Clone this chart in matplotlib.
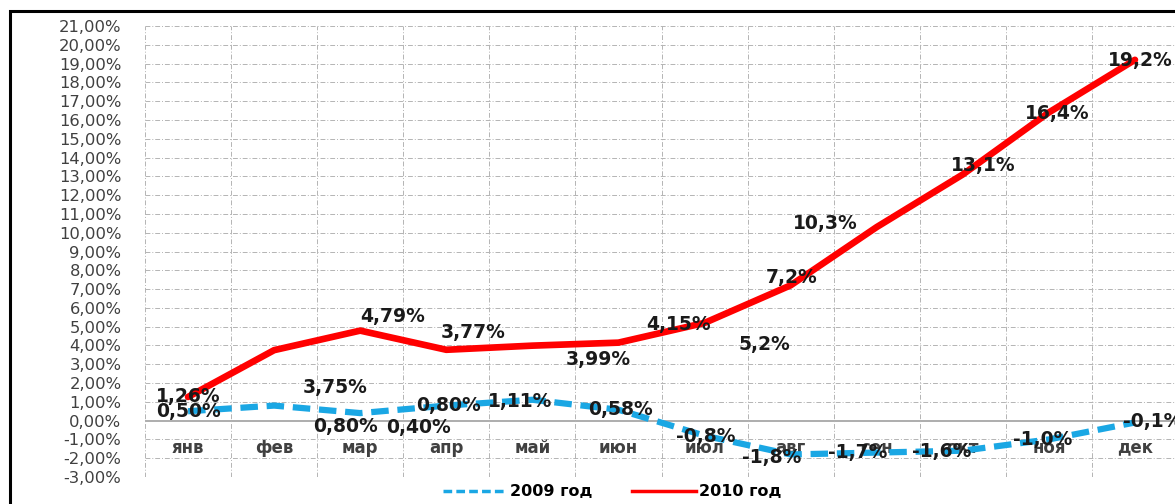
import matplotlib.pyplot as plt
from matplotlib.lines import Line2D
from matplotlib.patches import Rectangle

# ===== data =====
months = ["янв", "фев", "мар", "апр", "май", "июн",
          "июл", "авг", "сен", "окт", "ноя", "дек"]
infl_2009 = [0.50, 0.80, 0.40, 0.80, 1.11, 0.58, -0.8, -1.8, -1.7, -1.6, -1.0, -0.1]
infl_2010 = [1.26, 3.75, 4.79, 3.77, 3.99, 4.15, 5.2, 7.2, 10.3, 13.1, 16.4, 19.2]
labels_2009 = ["0,50%", "0,80%", "0,40%", "0,80%", "1,11%", "0,58%",
               "-0,8%", "-1,8%", "-1,7%", "-1,6%", "-1,0%", "-0,1%"]
labels_2010 = ["1,26%", "3,75%", "4,79%", "3,77%", "3,99%", "4,15%",
               "5,2%", "7,2%", "10,3%", "13,1%", "16,4%", "19,2%"]
yticks = list(range(-3, 22))

# label offsets from the point (pixels, dy positive = down), as placed in the original
off_2009 = [(0, 0), (71, 21), (58, 14), (2, 0), (-12, 2), (2, 0),
            (1, 1), (-19, 3), (-19, 0), (-21, 1), (-6, 0), (18, -1)]
off_2010 = [(0, 0), (61, 37), (32, -14), (27, -17), (66, 14), (60, -18),
            (60, 22), (1, -8), (-51, -4), (20, -9), (8, 1), (5, 1)]

BLUE = "#1aa7e4"
RED = "#ff0000"
GRID = "#b4b4b4"

fig = plt.figure(figsize=(11.75, 5.04), dpi=100)
ax = fig.add_axes([145 / 1175, 1 - 477 / 504, 1033 / 1175, 451 / 504])

x = list(range(len(months)))

# ===== grid =====
for v in yticks:
    if v == 0:
        ax.axhline(0, color="#a0a0a0", lw=1.2, zorder=1)
    else:
        ax.axhline(v, color=GRID, lw=0.7, ls=(0, (5, 2, 1, 2)), zorder=1)
for i in range(len(months) + 1):
    ax.axvline(i - 0.5, color=GRID, lw=0.7, ls=(0, (5, 2, 1, 2)), zorder=1)

# ===== lines =====
ax.plot(x, infl_2009, color=BLUE, lw=4.5, ls=(0, (2.8, 1.4)),
        solid_capstyle="round", zorder=3)
ax.plot(x, infl_2010, color=RED, lw=4.8, solid_capstyle="round",
        solid_joinstyle="round", zorder=4)

# ===== data labels =====
lab_kw = dict(textcoords="offset points", ha="center", va="center",
              fontsize=13.5, fontweight="bold", color="#1a1a1a", zorder=5)
for i in x:
    dx, dy = off_2009[i]
    ax.annotate(labels_2009[i], (i, infl_2009[i]),
                xytext=(dx * 0.72, -dy * 0.72), **lab_kw)
    dx, dy = off_2010[i]
    ax.annotate(labels_2010[i], (i, infl_2010[i]),
                xytext=(dx * 0.72, -dy * 0.72), **lab_kw)

# month names next to the zero axis
for i, m in enumerate(months):
    ax.annotate(m, (i, 0), xytext=(0, -27 * 0.72), textcoords="offset points",
                ha="center", va="center", fontsize=12, fontweight="bold",
                color="#404040", zorder=2)

# ===== axes =====
ax.set_xlim(-0.5, 11.5)
ax.set_ylim(-3, 21)
ax.set_yticks(yticks)
ax.set_yticklabels([f"{v:.2f}".replace(".", ",") + "%" for v in yticks],
                   fontsize=11.8, color="#404040")
ax.set_xticks([])
ax.tick_params(axis="y", length=0, pad=17)
for s in ax.spines.values():
    s.set_visible(False)

# ===== legend =====
handles = [Line2D([], [], color=BLUE, lw=2.5, ls=(0, (2.5, 1.2))),
           Line2D([], [], color=RED, lw=2.5)]
fig.legend(handles, ["2009 год", "2010 год"], loc="center",
           bbox_to_anchor=(0.521, 0.024), ncol=2, frameon=False,
           handlelength=4.0, handletextpad=0.2, columnspacing=2.5,
           prop={"size": 11.5, "weight": "bold"})

# ===== frame =====
fig.patches.append(Rectangle((10 / 1175, -0.1), 1.2, (504 - 11) / 504 + 0.1,
                             transform=fig.transFigure, fill=False,
                             edgecolor="black", lw=2.2))

fig.savefig("out.png", dpi=100)
